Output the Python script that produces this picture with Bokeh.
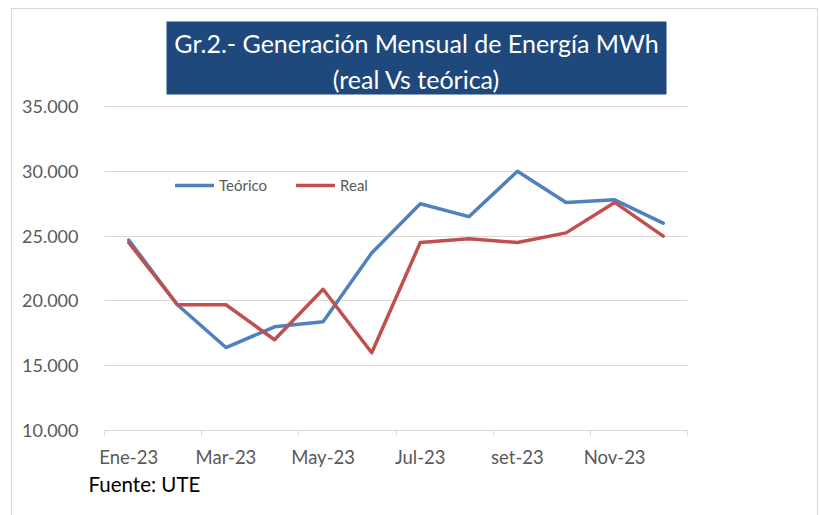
from bokeh.plotting import figure
from bokeh.models import FixedTicker, Legend, LegendItem, Range1d, Title, BoxAnnotation, Label
from bokeh.embed import file_html
from bokeh.resources import INLINE

months = ["Ene-23", "Feb-23", "Mar-23", "Abr-23", "May-23", "Jun-23",
          "Jul-23", "Ago-23", "set-23", "Oct-23", "Nov-23", "Dic-23"]
teorico = [24700, 19700, 16400, 18000, 18400, 23700, 27500, 26500, 30000, 27600, 27800, 26000]
real = [24500, 19700, 19700, 17000, 20900, 16000, 24500, 24800, 24500, 25250, 27600, 25000]
y_ticks = [10000, 15000, 20000, 25000, 30000, 35000]
y_tick_labels = ["10.000", "15.000", "20.000", "25.000", "30.000", "35.000"]
title_text = "Gr.2.- Generación Mensual de Energía MWh\n(real Vs teórica)"
source_text = "Fuente: UTE"

FONT = "Lato"
W, H = 820, 515
TOP, BOTTOM, LEFT, RIGHT = 14, 85, 104, 133
GRID_PX = 324  # pixel height of the 10.000-35.000 band
frame_h = H - TOP - BOTTOM
y_end = y_ticks[0] + (y_ticks[-1] - y_ticks[0]) * frame_h / GRID_PX

x = [i + 0.5 for i in range(len(months))]

p = figure(width=W, height=H, output_backend="svg", toolbar_location=None,
           x_range=Range1d(0, len(months)), y_range=Range1d(y_ticks[0], y_end),
           min_border_left=LEFT, min_border_right=RIGHT, min_border_top=TOP,
           min_border_bottom=BOTTOM)
p.outline_line_color = None
p.background_fill_color = "white"
p.border_fill_alpha = 0
p.styles = {
    "background": ("linear-gradient(#D9D9D9,#D9D9D9) 11px 8px / 1px 100% no-repeat, "
                   "linear-gradient(#D9D9D9,#D9D9D9) 11px 8px / 807px 1px no-repeat, "
                   "linear-gradient(#D9D9D9,#D9D9D9) 817px 8px / 1px 100% no-repeat, white")
}

# x axis
label_pos = x[::2]
p.xaxis.ticker = FixedTicker(ticks=label_pos, minor_ticks=list(range(0, len(months) + 1, 2)))
p.xaxis.major_label_overrides = {pos: months[i * 2] for i, pos in enumerate(label_pos)}
p.xaxis.major_tick_out = 0
p.xaxis.major_tick_in = 0
p.xaxis.minor_tick_out = 5
p.xaxis.minor_tick_in = 0
p.xaxis.minor_tick_line_color = "#D9D9D9"
p.xaxis.axis_line_color = "#D9D9D9"
p.xaxis.major_label_text_font = FONT
p.xaxis.major_label_text_font_size = "18.5px"
p.xaxis.major_label_text_color = "#595959"
p.xaxis.major_label_standoff = 10
p.xgrid.visible = False

# y axis
p.yaxis.ticker = FixedTicker(ticks=y_ticks)
p.yaxis.major_label_overrides = dict(zip(y_ticks, y_tick_labels))
p.yaxis.axis_line_color = None
p.yaxis.major_tick_line_color = None
p.yaxis.minor_tick_line_color = None
p.yaxis.major_label_text_font = FONT
p.yaxis.major_label_text_font_size = "18px"
p.yaxis.major_label_text_color = "#595959"
p.yaxis.major_label_standoff = 20
p.ygrid.grid_line_color = "#D9D9D9"
p.ygrid.grid_line_width = 1

r1 = p.line(x, teorico, line_color="#4F81BD", line_width=3.5, line_join="round", line_cap="round")
r2 = p.line(x, real, line_color="#C0504D", line_width=3.5, line_join="round", line_cap="round")

legend = Legend(items=[LegendItem(label="Teórico", renderers=[r1]),
                       LegendItem(label="Real", renderers=[r2])],
                orientation="horizontal", location=(71, 235),
                border_line_color=None, background_fill_alpha=0,
                padding=0, margin=0, spacing=29, label_standoff=5,
                glyph_width=39, glyph_height=20,
                label_text_font=FONT, label_text_font_size="15px",
                label_text_color="#595959")
p.add_layout(legend, "center")

# title box (inside the frame's upper band)
p.add_layout(BoxAnnotation(left=166, right=666, top=21, bottom=94,
                           left_units="canvas", right_units="canvas",
                           top_units="canvas", bottom_units="canvas",
                           fill_color="#1F497D", fill_alpha=1, line_color=None))
p.add_layout(Label(x=416, y=60, x_units="canvas", y_units="canvas",
                   text=title_text, text_align="center", text_baseline="middle",
                   text_font=FONT, text_font_size="25px", text_color="white",
                   text_line_height=1.2))

p.add_layout(Title(text=source_text, align="left", offset=-16, standoff=-2,
                   text_font=FONT, text_font_size="20.5px", text_font_style="normal",
                   text_color="#000000"), "below")

open("out.html", "w").write(file_html(p, INLINE))
